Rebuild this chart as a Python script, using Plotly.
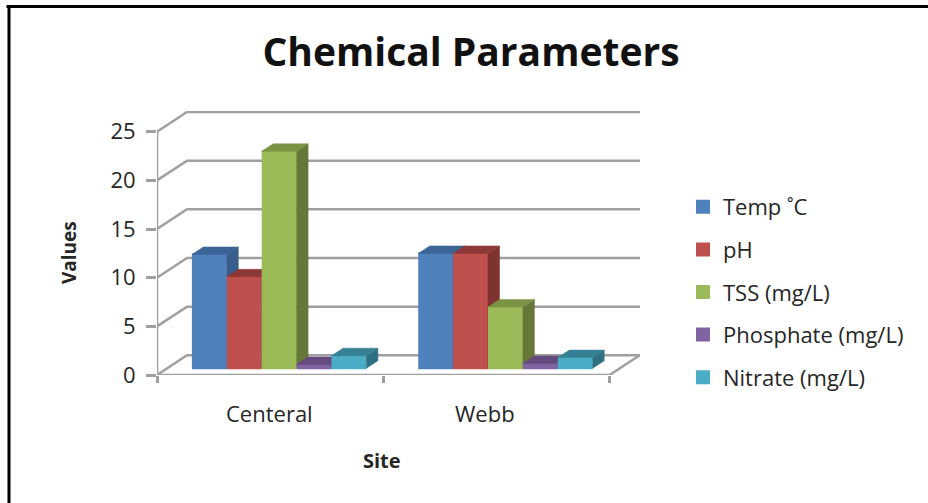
import plotly.graph_objects as go

# Chart data
sites = ["Centeral", "Webb"]
temp_c = [11.7, 11.8]
ph = [9.4, 11.8]
tss = [22.3, 6.3]
phosphate = [0.4, 0.5]
nitrate = [1.3, 1.1]
y_ticks = [0, 5, 10, 15, 20, 25]

series = [
    ("Temp ˚C", temp_c, "#4F81BD", "#385D8A", "#3B6496"),
    ("pH", ph, "#C0504D", "#7F3330", "#8C3836"),
    ("TSS (mg/L)", tss, "#9BBB59", "#66773A", "#7A9342"),
    ("Phosphate (mg/L)", phosphate, "#8064A2", "#4F3D68", "#644A7E"),
    ("Nitrate (mg/L)", nitrate, "#4BACC6", "#2F6F82", "#368096"),
]

# Canvas and plot-area geometry
W, H = 928, 503
L, R, T, B = 157, 288, 111, 128
PX_PER_CAT = 226.3
PX_PER_UNIT = 9.732

# Oblique projection used for the pseudo-3D look
WALL_DX = 30 / PX_PER_CAT
WALL_DY = 19.7 / PX_PER_UNIT
FLOOR_DX = 9 / PX_PER_CAT
FLOOR_DY = 6.7 / PX_PER_UNIT
BAR_DX = 11.5 / PX_PER_CAT
BAR_DY = 7.5 / PX_PER_UNIT
BAR_W = 34.9 / PX_PER_CAT
EDGE = 2 / PX_PER_CAT

x_max = (W - L - R) / PX_PER_CAT
y_max = (H - T - B) / PX_PER_UNIT
GRID = "#A0A0A0"
TEXT = "#262626"
FONT = "Open Sans"
LABEL_SIZE = 22


def px_x(p):
    return (p - L) / (W - L - R)


def px_y(p):
    return 1 - (p - T) / (H - T - B)


fig = go.Figure()

# Side wall and back wall gridlines, floor edge and axis lines
wall_x, wall_y = [], []
for v in y_ticks:
    wall_x += [0, WALL_DX, x_max, None]
    wall_y += [v, v + WALL_DY, v + WALL_DY, None]
wall_x += [0, len(sites), len(sites) + WALL_DX, None, 0, 0]
wall_y += [0, 0, WALL_DY, None, 0, y_ticks[-1]]
fig.add_trace(go.Scatter(
    x=wall_x, y=wall_y, mode="lines", line=dict(color=GRID, width=2.5),
    showlegend=False, hoverinfo="skip", cliponaxis=False,
))

# One overlaid subplot per series so later series paint over earlier depth faces
for i, (name, values, front, side, top) in enumerate(series):
    ax = i + 2
    xs = [c + 0.5 + FLOOR_DX + (i - 2) * BAR_W for c in range(len(sites))]
    fig.add_trace(go.Bar(
        x=xs, y=values, base=FLOOR_DY, width=BAR_W - EDGE, name=name,
        legendgroup=name, marker=dict(color=front, line=dict(color=front, width=2)),
        xaxis=f"x{ax}", yaxis=f"y{ax}",
    ))
    for kind, color in (("side", side), ("top", top)):
        px, py = [], []
        for x, v in zip(xs, values):
            x0, x1 = x - BAR_W / 2, x + BAR_W / 2
            t = v + FLOOR_DY
            if kind == "side":
                px += [x1, x1 + BAR_DX, x1 + BAR_DX, x1, x1, None]
                py += [FLOOR_DY, FLOOR_DY + BAR_DY, t + BAR_DY, t, FLOOR_DY, None]
            else:
                px += [x0, x0 + BAR_DX, x1 + BAR_DX, x1, x0, None]
                py += [t, t + BAR_DY, t + BAR_DY, t, t, None]
        fig.add_trace(go.Scatter(
            x=px, y=py, mode="lines", fill="toself", fillcolor=color,
            line=dict(color=color, width=0.5), showlegend=False, hoverinfo="skip",
            xaxis=f"x{ax}", yaxis=f"y{ax}",
        ))

layout = dict(
    width=W, height=H, autosize=False,
    margin=dict(l=L, r=R, t=T, b=B, pad=0),
    paper_bgcolor="white", plot_bgcolor="white",
    barmode="overlay",
    font=dict(family=FONT, size=LABEL_SIZE, color=TEXT),
    title=dict(
        text="<b>Chemical Parameters</b>", font=dict(family=FONT, size=39, color="#111111"),
        x=471 / W, xanchor="center", xref="container",
        y=1 - 52 / H, yanchor="middle", yref="container",
    ),
    xaxis=dict(
        range=[0, x_max], tickvals=list(range(len(sites) + 1)),
        ticktext=[""] * (len(sites) + 1), ticks="outside", ticklen=7, tickwidth=2.5,
        tickcolor=GRID, showgrid=False, zeroline=False, showline=False,
    ),
    yaxis=dict(
        range=[0, y_max], tickvals=y_ticks, ticks="outside", ticklen=10, tickwidth=2.5,
        tickcolor=GRID, showgrid=False, zeroline=False, showline=False,
        tickfont=dict(size=LABEL_SIZE), ticklabelstandoff=6,
    ),
    legend=dict(
        x=px_x(683), xanchor="left", y=px_y(186), yanchor="top",
        traceorder="grouped", tracegroupgap=11, font=dict(size=LABEL_SIZE),
        bgcolor="rgba(0,0,0,0)", itemclick=False, itemdoubleclick=False,
    ),
)
for i in range(len(series)):
    ax = i + 2
    layout[f"xaxis{ax}"] = dict(range=[0, x_max], overlaying="x", visible=False)
    layout[f"yaxis{ax}"] = dict(range=[0, y_max], overlaying="y", visible=False)

fig.update_layout(**layout)

# Category labels and axis titles
label_x = [269, 484.5]
for site, px in zip(sites, label_x):
    fig.add_annotation(
        text=site, x=px_x(px), y=px_y(413), xref="paper", yref="paper",
        xanchor="center", yanchor="middle", showarrow=False, font=dict(size=LABEL_SIZE),
    )
fig.add_annotation(
    text="<b>Site</b>", x=px_x(382), y=px_y(460), xref="paper", yref="paper",
    xanchor="center", yanchor="middle", showarrow=False, font=dict(size=20),
)
fig.add_annotation(
    text="<b>Values</b>", x=px_x(69), y=px_y(253), xref="paper", yref="paper",
    xanchor="center", yanchor="middle", showarrow=False, textangle=-90, font=dict(size=19),
)

# Heavy black frame along the top and left edges
for x0, y0, x1, y1 in [(6.5, 6.5, W, 6.5), (9, 6.5, 9, H)]:
    fig.add_shape(
        type="line", xref="paper", yref="paper",
        x0=px_x(x0), y0=px_y(y0), x1=px_x(x1), y1=px_y(y1),
        line=dict(color="black", width=3),
    )

fig.write_html("out.html")
